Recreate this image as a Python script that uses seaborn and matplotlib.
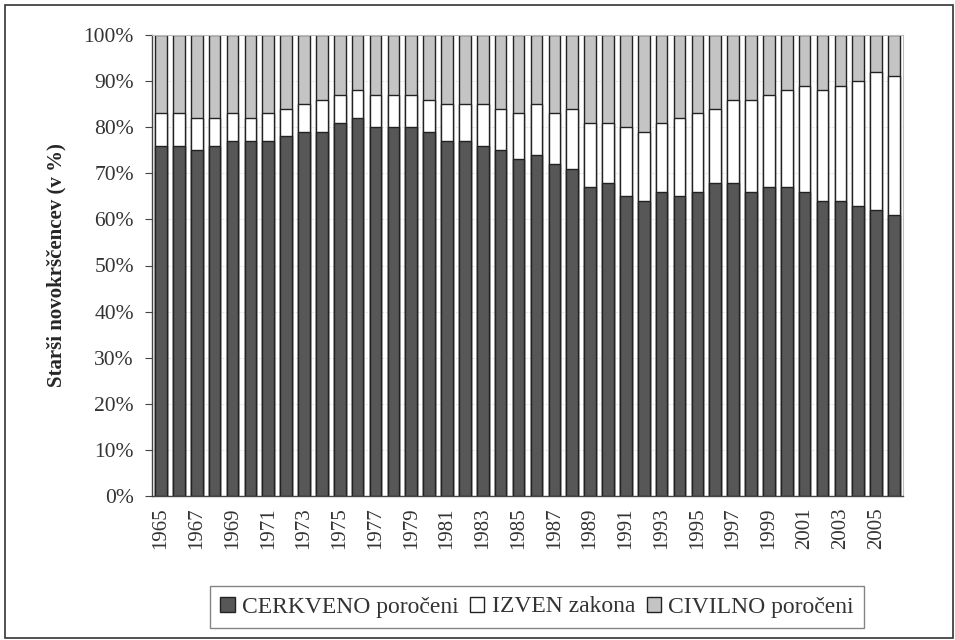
import numpy as np
import pandas as pd
import matplotlib
matplotlib.use("Agg")
import matplotlib.pyplot as plt
import seaborn as sns
from matplotlib.patches import Patch, Rectangle

years = list(range(1965, 2007))
# delež staršev (v %)
cerkveno = [76, 76, 75, 76, 77, 77, 77, 78, 79, 79, 81, 82, 80, 80, 80, 79, 77, 77, 76, 75, 73,
            74, 72, 71, 67, 68, 65, 64, 66, 65, 66, 68, 68, 66, 67, 67, 66, 64, 64, 63, 62, 61]
izven = [7, 7, 7, 6, 6, 5, 6, 6, 6, 7, 6, 6, 7, 7, 7, 7, 8, 8, 9, 9, 10,
         11, 11, 13, 14, 13, 15, 15, 15, 17, 17, 16, 18, 20, 20, 21, 23, 24, 25, 27, 30, 30]
civilno = [100 - a - b for a, b in zip(cerkveno, izven)]

labels = ["CERKVENO poročeni", "IZVEN zakona", "CIVILNO poročeni"]
colors = ["#575757", "#ffffff", "#c4c4c4"]

df = pd.DataFrame({"leto": [str(y) for y in years],
                   "c": cerkveno, "i": izven, "v": civilno})
df["ci"] = df["c"] + df["i"]
df["civ"] = df["ci"] + df["v"]

sns.set_style("white")
plt.rcParams["font.family"] = ["Liberation Serif", "DejaVu Serif"]

fig = plt.figure(figsize=(9.55, 6.4), dpi=100)
ax = fig.add_axes([152 / 955, 1 - 496 / 640, (903 - 152) / 955, (496 - 35) / 640])

kw = dict(width=0.65, edgecolor="#222222", linewidth=1.0, ax=ax, order=df["leto"])
sns.barplot(data=df, x="leto", y="civ", color=colors[2], saturation=1, **kw)
sns.barplot(data=df, x="leto", y="ci", color=colors[1], saturation=1, **kw)
sns.barplot(data=df, x="leto", y="c", color=colors[0], saturation=1, **kw)

ax.set_ylim(0, 100)
ax.set_xlim(-0.5, len(years) - 0.5)
ax.set_yticks(range(0, 101, 10))
ax.set_yticklabels([f"{v}%" for v in range(0, 101, 10)], fontsize=15.5, color="#333333")
ax.yaxis.grid(True, color="#dddddd", linewidth=0.6, linestyle=(0, (2, 2)))
ax.set_axisbelow(True)

ax.set_xticks(range(0, len(years), 2))
ax.set_xticklabels([str(y) for y in years[::2]], rotation=90, fontsize=15, color="#333333")
ax.set_xticks(np.arange(-0.5, len(years), 1), minor=True)
ax.tick_params(axis="x", which="major", length=0, pad=8)
ax.tick_params(axis="x", which="minor", length=4, color="#444444", width=0.8)
ax.tick_params(axis="y", length=5, color="#444444", width=0.8, left=True, pad=8)

ax.set_xlabel("")
ax.set_ylabel("Starši novokrščencev (v %)", fontsize=15, fontweight="bold", labelpad=12)

for s in ["left", "bottom"]:
    ax.spines[s].set_color("#444444")
    ax.spines[s].set_linewidth(1.0)
for s in ["top", "right"]:
    ax.spines[s].set_color("#bbbbbb")
    ax.spines[s].set_linewidth(0.8)

handles = [Patch(facecolor=c, edgecolor="#222222", label=l) for c, l in zip(colors, labels)]
leg = fig.legend(handles=handles, loc="center", bbox_to_anchor=(537 / 955, 1 - 607 / 640),
                 ncol=3, fontsize=17, frameon=True, fancybox=False, handlelength=0.6,
                 handleheight=0.6, handletextpad=0.3, columnspacing=0.5, borderpad=0.45)
leg.get_frame().set_edgecolor("#666666")
leg.get_frame().set_linewidth(1.0)
for t in leg.get_texts():
    t.set_color("#333333")

fig.patches.append(Rectangle((5 / 955, 2 / 640), 948 / 955, 633 / 640, transform=fig.transFigure,
                             fill=False, edgecolor="#333333", linewidth=1.2))

fig.savefig("out.png", dpi=100)
